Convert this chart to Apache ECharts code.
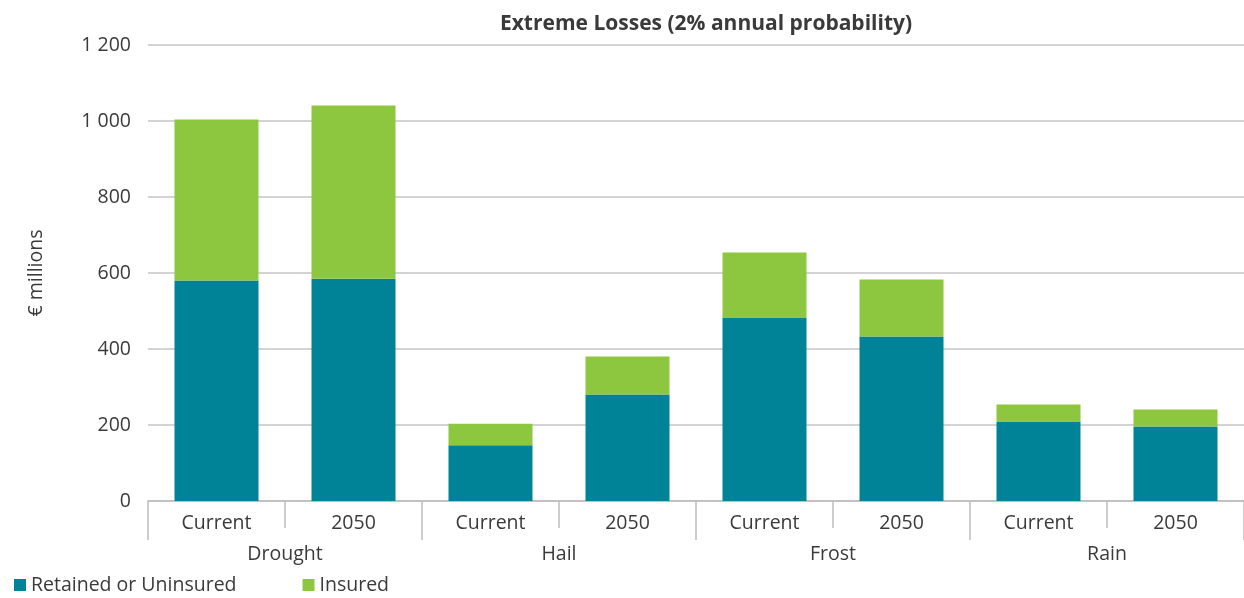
<!DOCTYPE html>
<html>
<head>
<meta charset="utf-8">
<script src="https://cdn.jsdelivr.net/npm/echarts@6/dist/echarts.min.js"></script>
<style>
html,body{margin:0;padding:0;background:#fff;}
#chart{width:1244px;height:598px;}
</style>
</head>
<body>
<div id="chart"></div>
<script>
var hazards = ['Drought', 'Hail', 'Frost', 'Rain'];
var periods = ['Current', '2050'];
var categories = ['Drought|Current','Drought|2050','Hail|Current','Hail|2050','Frost|Current','Frost|2050','Rain|Current','Rain|2050'];
var retained = [580, 585, 147, 280, 483, 433, 209, 196];
var insured = [424, 456, 56, 100, 171, 150, 45, 45];
var yTicks = [0, 200, 400, 600, 800, 1000, 1200];

var FONT = 'Open Sans';
var TXT = '#3a3a3a';
var chart = echarts.init(document.getElementById('chart'), null, {renderer: 'canvas'});
chart.setOption({
  animation: false,
  textStyle: {fontFamily: FONT},
  title: {
    text: 'Extreme Losses (2% annual probability)',
    left: 701, top: 9, textAlign: 'center',
    textStyle: {fontFamily: FONT, fontSize: 21, fontWeight: 'bold', color: TXT}
  },
  legend: {
    left: 9, bottom: -2, itemWidth: 12, itemHeight: 12, itemGap: 66,
    icon: 'rect',
    textStyle: {fontFamily: FONT, fontSize: 19.5, color: TXT},
    data: ['Retained or Uninsured', 'Insured']
  },
  grid: {left: 148, right: 0, top: 45, bottom: 97, containLabel: false},
  xAxis: [{
    type: 'category',
    data: categories,
    position: 'bottom',
    axisLine: {show: true, lineStyle: {color: '#bdbdbd', width: 1.5}},
    axisTick: {show: true, alignWithLabel: false, interval: 0, length: 27, lineStyle: {color: '#bdbdbd', width: 1.5}},
    axisLabel: {interval: 0, margin: 12, fontFamily: FONT, fontSize: 19.5, color: TXT,
      formatter: function (v) { return v.split('|')[1]; }},
    splitLine: {show: false}
  }, {
    type: 'category',
    data: hazards,
    position: 'bottom',
    axisLine: {show: false},
    axisTick: {show: true, interval: 0, length: 39, lineStyle: {color: '#bdbdbd', width: 1.5}},
    axisLabel: {interval: 0, margin: 43, fontFamily: FONT, fontSize: 19.5, color: TXT},
    splitLine: {show: false}
  }],
  yAxis: {
    type: 'value',
    min: 0, max: 1200, interval: 200,
    name: '€ millions',
    nameLocation: 'middle',
    nameGap: 102,
    nameRotate: 90,
    nameTextStyle: {fontFamily: FONT, fontSize: 19.5, color: TXT},
    axisLine: {show: false},
    axisTick: {show: false},
    axisLabel: {margin: 17, fontFamily: FONT, fontSize: 19.5, color: TXT,
      formatter: function (v) { return yTicks.indexOf(v) >= 0 ? String(v).replace(/\B(?=(\d{3})+(?!\d))/g, ' ') : ''; }},
    splitLine: {show: true, lineStyle: {color: '#c4c4c4', width: 1.5}}
  },
  series: [{
    name: 'Retained or Uninsured',
    type: 'bar', stack: 'total', xAxisIndex: 0,
    barWidth: 84,
    itemStyle: {color: '#008396'},
    data: retained
  }, {
    name: 'Insured',
    type: 'bar', stack: 'total', xAxisIndex: 0,
    barWidth: 84,
    itemStyle: {color: '#8dc63f'},
    data: insured
  }]
});
</script>
</body>
</html>
